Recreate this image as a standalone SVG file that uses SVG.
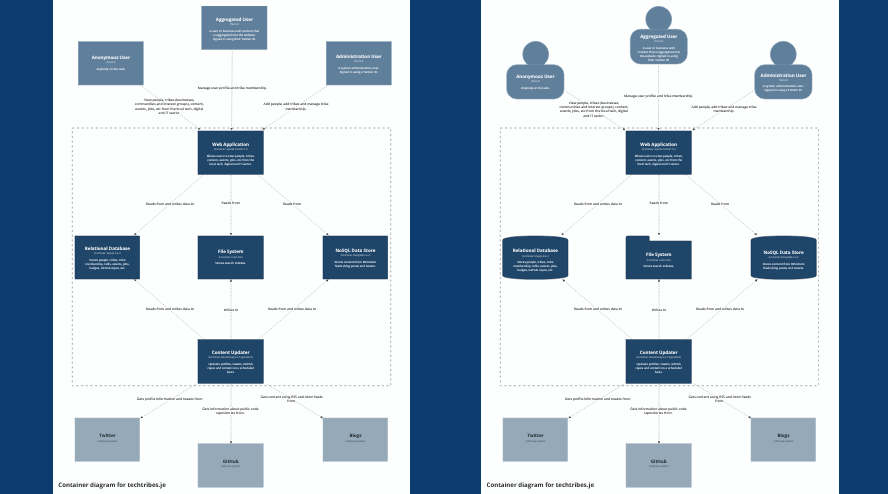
<svg xmlns="http://www.w3.org/2000/svg" width="888" height="494" viewBox="0 0 888 494">
<style>
text{font-family:"Open Sans","Noto Sans","DejaVu Sans",sans-serif;text-anchor:middle;text-rendering:geometricPrecision}
.n{font-size:4.5px;font-weight:700}
.t{font-size:2.3px;opacity:.8}
.d{font-size:2.85px;font-weight:600}
.w text{fill:#f8fafc}
.k text{fill:#222a30}
.l{font-size:3.3px;font-weight:600;fill:#2c2c2c;paint-order:stroke;stroke:#fdfefe;stroke-width:1.6px;stroke-linejoin:round}
.c{fill:none;stroke:#a0a0a0;stroke-width:.55;stroke-dasharray:1.3 1.1;marker-end:url(#a)}
.b{fill:none;stroke:#adadad;stroke-width:1;stroke-dasharray:2.2 2.5}
.p{fill:#607f9b;stroke:#7d98ae;stroke-width:.5}
.s{fill:#1f4568;stroke:#16334f;stroke-width:.5}
.x{fill:#95a9b8;stroke:#a9b9c5;stroke-width:.5}
.title{font-size:6.1px;font-weight:700;fill:#2c2c2c;text-anchor:start}
</style>
<defs>
<marker id="a" viewBox="0 0 6 6" refX="5" refY="3" markerWidth="2.6" markerHeight="2.6" markerUnits="userSpaceOnUse" orient="auto"><path d="M0 0L6 3L0 6Z" fill="#555"/></marker>
<filter id="soft" x="0" y="0" width="100%" height="100%" color-interpolation-filters="sRGB"><feGaussianBlur stdDeviation=".28"/></filter>
</defs>
<rect width="888" height="494" fill="#0c3b6f"/>
<rect x="53" width="357" height="494" fill="#fdfefe"/>
<rect x="481" width="358" height="494" fill="#fdfefe"/>
<g id="diagram" filter="url(#soft)">
<g id="boundaries">
<rect class="b" x="72.3" y="128" width="318.4" height="257.7"/>
<rect class="b" x="500.3" y="128" width="318.4" height="257.7"/>
</g>

<g id="connectors-left">
<path class="c" d="M141.7 86L200 129.5"/>
<path class="c" d="M232.3 51L231.5 130"/>
<path class="c" d="M326.7 86L262.7 129.5"/>
<path class="c" d="M203.3 175L134.3 235"/>
<path class="c" d="M231 175V235"/>
<path class="c" d="M258.3 175L328.3 235"/>
<path class="c" d="M204.3 339.5L134.3 279.5"/>
<path class="c" d="M231 339.5V279.5"/>
<path class="c" d="M258.3 339.5L328.3 279.5"/>
<path class="c" d="M196 384L140.7 418"/>
<path class="c" d="M231 384V443.5"/>
<path class="c" d="M266.7 384L322.7 418"/>
<text class="l" x="232.3" y="89.2">Manage user profile and tribe membership.</text>
<text class="l" x="169.3" y="101.2">View people, tribes (businesses,<tspan x="169.3" dy="4.2">communities and interest groups), content,</tspan><tspan x="169.3" dy="4.2">events, jobs, etc from the local tech, digital</tspan><tspan x="169.3" dy="4.2">and IT sector.</tspan></text>
<text class="l" x="296" y="105.4">Add people, add tribes and manage tribe<tspan x="296" dy="4.1">membership.</tspan></text>
<text class="l" x="170" y="204.5">Reads from and writes data to</text>
<text class="l" x="230.7" y="203.9">Reads from</text>
<text class="l" x="292" y="204.5">Reads from</text>
<text class="l" x="170" y="310.2">Reads from and writes data to</text>
<text class="l" x="231" y="311.2">Writes to</text>
<text class="l" x="292" y="310.2">Reads from and writes data to</text>
<text class="l" x="170" y="399.5">Gets profile information and tweets from.</text>
<text class="l" x="230.3" y="410.2">Gets information about public code<tspan x="230.3" dy="4">repositories from.</tspan></text>
<text class="l" x="291.7" y="397.9">Gets content using RSS and Atom feeds<tspan x="291.7" dy="4">from.</tspan></text>
</g>

<g id="connectors-right">
<path class="c" d="M566.7 91.7L625 130"/>
<path class="c" d="M658.5 66V130"/>
<path class="c" d="M753.3 90.7L692.7 130"/>
<path class="c" d="M631.3 175L561.7 235"/>
<path class="c" d="M659 175V235"/>
<path class="c" d="M686.3 175L756.7 235"/>
<path class="c" d="M632.3 339.5L562.7 279.5"/>
<path class="c" d="M659 339.5V279.5"/>
<path class="c" d="M686.3 339.5L757.3 279.5"/>
<path class="c" d="M624 384L568.7 418"/>
<path class="c" d="M659 384V443.5"/>
<path class="c" d="M694.7 384L750.7 418"/>
<text class="l" x="658.7" y="96.5">Manage user profile and tribe membership.</text>
<text class="l" x="594" y="103.9">View people, tribes (businesses,<tspan x="594" dy="4.2">communities and interest groups), content,</tspan><tspan x="594" dy="4.2">events, jobs, etc from the local tech, digital</tspan><tspan x="594" dy="4.2">and IT sector.</tspan></text>
<text class="l" x="724" y="107.9">Add people, add tribes and manage tribe<tspan x="724" dy="4.2">membership.</tspan></text>
<text class="l" x="598" y="204.5">Reads from and writes data to</text>
<text class="l" x="658.7" y="203.9">Reads from</text>
<text class="l" x="720" y="204.5">Reads from</text>
<text class="l" x="598" y="310.2">Reads from and writes data to</text>
<text class="l" x="659" y="311.2">Writes to</text>
<text class="l" x="720" y="310.2">Reads from and writes data to</text>
<text class="l" x="598" y="399.5">Gets profile information and tweets from.</text>
<text class="l" x="658.3" y="410.2">Gets information about public code<tspan x="658.3" dy="4">repositories from.</tspan></text>
<text class="l" x="719.7" y="397.9">Gets content using RSS and Atom feeds<tspan x="719.7" dy="4">from.</tspan></text>
</g>

<g id="left-aggregated-user" class="w" transform="translate(201.7 6)">
<rect class="p" width="65.3" height="43.5"/>
<text class="n" x="32.7" y="14.6">Aggregated User</text><text class="t" x="32.7" y="18.8">[Person]</text>
<text class="d" x="32.7" y="25.7">A user or business with content that<tspan x="32.7" dy="4">is aggregated into the website.</tspan><tspan x="32.7" dy="4">Signed in using their Twitter ID.</tspan></text>
</g>
<g id="left-anonymous-user" class="w" transform="translate(78.3 41.7)">
<rect class="p" width="65" height="43.3"/>
<text class="n" x="32.5" y="17.6">Anonymous User</text><text class="t" x="32.5" y="21.8">[Person]</text>
<text class="d" x="32.5" y="28.7">Anybody on the web.</text>
</g>
<g id="left-administration-user" class="w" transform="translate(326.3 41.7)">
<rect class="p" width="65" height="43.3"/>
<text class="n" x="32.5" y="16">Administration User</text><text class="t" x="32.5" y="20.5">[Person]</text>
<text class="d" x="32.5" y="27">A system administration user.<tspan x="32.5" dy="4">Signed in using a Twitter ID.</tspan></text>
</g>
<g id="left-web-application" class="w" transform="translate(198 131)">
<rect class="s" width="65.3" height="43.3"/>
<text class="n" x="32.7" y="14.6">Web Application</text><text class="t" x="32.7" y="19.1">[Container: Apache Tomcat 7.x]</text>
<text class="d" x="32.7" y="25.7">Allows users to view people, tribes,<tspan x="32.7" dy="4">content, events, jobs, etc from the</tspan><tspan x="32.7" dy="4">local tech, digital and IT sector.</tspan></text>
</g>
<g id="left-relational-database" class="w" transform="translate(75 236)">
<rect class="s" width="64.7" height="43"/>
<text class="n" x="32.4" y="13.9">Relational Database</text><text class="t" x="32.4" y="17.8">[Container: MySQL 5.5.x]</text>
<text class="d" x="32.4" y="25">Stores people, tribes, tribe<tspan x="32.4" dy="4">membership, talks, events, jobs,</tspan><tspan x="32.4" dy="4">badges, GitHub repos, etc.</tspan></text>
</g>
<g id="left-file-system" class="w" transform="translate(198 236)">
<rect class="s" width="65.3" height="43"/>
<text class="n" x="32.7" y="16.9">File System</text><text class="t" x="32.7" y="21.8">[Container: Local disk]</text>
<text class="d" x="32.7" y="28.3">Stores search indexes.</text>
</g>
<g id="left-nosql-data-store" class="w" transform="translate(323 236)">
<rect class="s" width="64.7" height="43"/>
<text class="n" x="32.4" y="15.6">NoSQL Data Store</text><text class="t" x="32.4" y="20.1">[Container: MongoDB 2.2.x]</text>
<text class="d" x="32.4" y="26.7">Stores content from RSS/Atom<tspan x="32.4" dy="4">feeds (blog posts) and tweets.</tspan></text>
</g>
<g id="left-content-updater" class="w" transform="translate(198 339.7)">
<rect class="s" width="65.3" height="43.6"/>
<text class="n" x="32.7" y="14.6">Content Updater</text><text class="t" x="32.7" y="18.8">[Container: Standalone Java 7 application]</text>
<text class="d" x="32.7" y="25.7">Updates profiles, tweets, GitHub<tspan x="32.7" dy="4">repos and content on a scheduled</tspan><tspan x="32.7" dy="4">basis.</tspan></text>
</g>
<g id="left-twitter" class="k" transform="translate(75 418)">
<rect class="x" width="64.7" height="43.3"/>
<text class="n" x="32.4" y="19">Twitter</text><text class="t" x="32.4" y="23.5">[Software System]</text>
</g>
<g id="left-github" class="k" transform="translate(198 443.7)">
<rect class="x" width="65.3" height="43.6"/>
<text class="n" x="32.7" y="19">GitHub</text><text class="t" x="32.7" y="23.5">[Software System]</text>
</g>
<g id="left-blogs" class="k" transform="translate(323 418)">
<rect class="x" width="64.7" height="43.3"/>
<text class="n" x="32.4" y="19">Blogs</text><text class="t" x="32.4" y="23.5">[Software System]</text>
</g>
<text class="title" x="58.3" y="487">Container diagram for techtribes.je</text>

<g id="right-aggregated-user" class="w" transform="translate(630.3 29.3)">
<circle class="p" cx="28.4" cy="-10" r="13"/>
<rect class="p" width="57" height="34.7" rx="10"/>
<text class="n" x="28.5" y="8.6">Aggregated User</text><text class="t" x="28.5" y="12.8">[Person]</text>
<text class="d" x="28.5" y="19.7">A user or business with<tspan x="28.5" dy="4">content that is aggregated into</tspan><tspan x="28.5" dy="4">the website. Signed in using</tspan><tspan x="28.5" dy="4">their Twitter ID.</tspan></text>
</g>
<g id="right-anonymous-user" class="w" transform="translate(506.7 64.7)">
<circle class="p" cx="29" cy="-10.4" r="13"/>
<rect class="p" width="57.3" height="34.3" rx="10"/>
<text class="n" x="28.7" y="13.3">Anonymous User</text><text class="t" x="28.7" y="17.5">[Person]</text>
<text class="d" x="28.7" y="24.3">Anybody on the web.</text>
</g>
<g id="right-administration-user" class="w" transform="translate(754.7 64.7)">
<circle class="p" cx="28.6" cy="-10.4" r="13"/>
<rect class="p" width="57.3" height="34.3" rx="10"/>
<text class="n" x="28.7" y="12">Administration User</text><text class="t" x="28.7" y="16.1">[Person]</text>
<text class="d" x="28.7" y="22.7">A system administration user.<tspan x="28.7" dy="4">Signed in using a Twitter ID.</tspan></text>
</g>
<g id="right-web-application" class="w" transform="translate(626 131)">
<rect class="s" width="65.3" height="43.3"/>
<text class="n" x="32.7" y="14.6">Web Application</text><text class="t" x="32.7" y="19.1">[Container: Apache Tomcat 7.x]</text>
<text class="d" x="32.7" y="25.7">Allows users to view people, tribes,<tspan x="32.7" dy="4">content, events, jobs, etc from the</tspan><tspan x="32.7" dy="4">local tech, digital and IT sector.</tspan></text>
</g>
<g id="right-relational-database" class="w" transform="translate(502.7 236)">
<path class="s" d="M0 4C0 1.5 14 0 32.6 0S65.3 1.5 65.3 4V39.5C65.3 42 51 43.3 32.6 43.3S0 42 0 39.5Z"/>
<text class="n" x="32.6" y="16.3">Relational Database</text><text class="t" x="32.6" y="20.8">[Container: MySQL 5.5.x]</text>
<text class="d" x="32.6" y="27">Stores people, tribes, tribe<tspan x="32.6" dy="4">membership, talks, events, jobs,</tspan><tspan x="32.6" dy="4">badges, GitHub repos, etc.</tspan></text>
</g>
<g id="right-file-system" class="w" transform="translate(626 236)">
<path class="s" d="M0 1.5Q0 0 1.5 0H22.5Q23.3 0 23.3 1V5H65.3V43H0Z"/>
<text class="n" x="32.7" y="20.3">File System</text><text class="t" x="32.7" y="24.5">[Container: Local disk]</text>
<text class="d" x="32.7" y="31">Stores search indexes.</text>
</g>
<g id="right-nosql-data-store" class="w" transform="translate(751 236)">
<path class="s" d="M0 4C0 1.5 14 0 32.6 0S65.3 1.5 65.3 4V39.5C65.3 42 51 43.3 32.6 43.3S0 42 0 39.5Z"/>
<text class="n" x="32.6" y="17.6">NoSQL Data Store</text><text class="t" x="32.6" y="21.8">[Container: MongoDB 2.2.x]</text>
<text class="d" x="32.6" y="28.7">Stores content from RSS/Atom<tspan x="32.6" dy="4">feeds (blog posts) and tweets.</tspan></text>
</g>
<g id="right-content-updater" class="w" transform="translate(626 339.7)">
<rect class="s" width="65.3" height="43.6"/>
<text class="n" x="32.7" y="14.6">Content Updater</text><text class="t" x="32.7" y="18.8">[Container: Standalone Java 7 application]</text>
<text class="d" x="32.7" y="25.7">Updates profiles, tweets, GitHub<tspan x="32.7" dy="4">repos and content on a scheduled</tspan><tspan x="32.7" dy="4">basis.</tspan></text>
</g>
<g id="right-twitter" class="k" transform="translate(503 418)">
<rect class="x" width="64.7" height="43.3"/>
<text class="n" x="32.4" y="19">Twitter</text><text class="t" x="32.4" y="23.5">[Software System]</text>
</g>
<g id="right-github" class="k" transform="translate(626 443.7)">
<rect class="x" width="65.3" height="43.6"/>
<text class="n" x="32.7" y="19">GitHub</text><text class="t" x="32.7" y="23.5">[Software System]</text>
</g>
<g id="right-blogs" class="k" transform="translate(751 418)">
<rect class="x" width="64.7" height="43.3"/>
<text class="n" x="32.4" y="19">Blogs</text><text class="t" x="32.4" y="23.5">[Software System]</text>
</g>
<text class="title" x="486.5" y="487">Container diagram for techtribes.je</text>
</g>
</svg>
